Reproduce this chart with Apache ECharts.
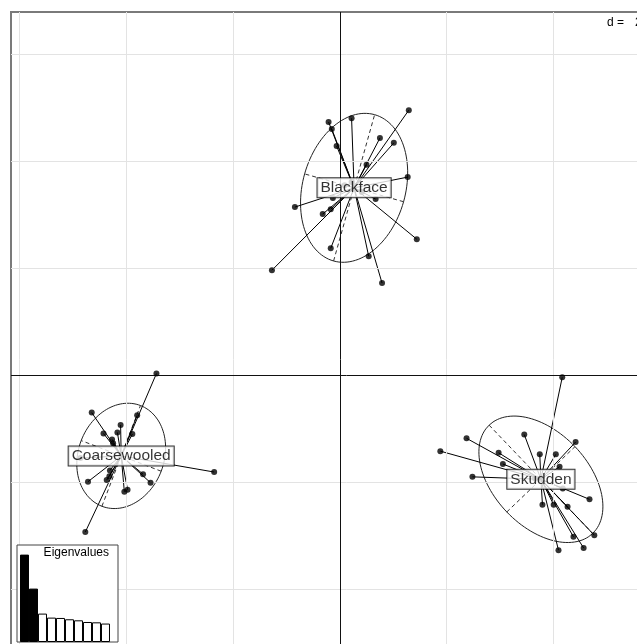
<!DOCTYPE html>
<html>
<head>
<meta charset="utf-8">
<script src="https://cdn.jsdelivr.net/npm/echarts@6/dist/echarts.min.js"></script>
<style>
  html, body { margin: 0; padding: 0; background: #fff; overflow: hidden; }
  /* the plotting frame runs past the right and bottom edges of the window */
  #chart { width: 682px; height: 707px; }
</style>
</head>
<body>
<div id="chart"></div>
<script>
// Discriminant scores of individuals, by breed (axis 1, axis 2)
const groupNames = ['Blackface', 'Coarsewooled', 'Skudden'];

const blackfaceX = [1.29, -0.21, 0.22, -0.15, 0.75, 1.01, -0.06, 0.50, 1.27, -0.84, -0.13, 0.67, -0.17, -0.32, 1.44, -0.17, 0.54, -1.27, 0.79, 0.09, 0.41, 0.22];
const blackfaceY = [4.95, 4.73, 4.80, 4.60, 4.43, 4.34, 4.28, 3.93, 3.70, 3.14, 3.31, 3.29, 3.10, 3.01, 2.54, 2.37, 2.22, 1.96, 1.72, 3.55, 3.42, 3.61];

const coarsewooledX = [-3.43, -4.64, -3.79, -4.42, -4.10, -4.16, -3.88, -4.26, -4.24, -2.35, -4.30, -3.68, -4.31, -4.71, -4.36, -3.54, -4.03, -3.97, -4.76, -4.85];
const coarsewooledY = [0.03, -0.70, -0.75, -1.09, -0.93, -1.07, -1.10, -1.20, -1.27, -1.81, -1.78, -1.85, -1.89, -1.99, -1.96, -2.01, -2.18, -2.14, -2.93, -1.55];

const skuddenX = [4.16, 2.37, 1.88, 3.45, 4.41, 2.97, 3.05, 3.74, 4.04, 2.48, 4.11, 4.17, 4.67, 3.79, 4.00, 4.26, 4.37, 4.76, 4.09, 4.56, 3.65];
const skuddenY = [-0.04, -1.18, -1.42, -1.11, -1.25, -1.45, -1.66, -1.48, -1.48, -1.90, -1.71, -2.12, -2.32, -2.42, -2.42, -2.46, -3.02, -2.99, -3.27, -3.23, -1.93];

// Eigenvalues shown in the inset (first two retained)
const eigenvalues = [100, 61.1, 32.5, 27.9, 27.5, 26.0, 24.8, 22.9, 22.5, 21.1];
const retainedAxes = 2;

// Grid positions (d = 2)
const gridTicks = [-6, -4, -2, 2, 4, 6];
const gridStep = 2;

const groupsX = [blackfaceX, coarsewooledX, skuddenX];
const groupsY = [blackfaceY, coarsewooledY, skuddenY];

const FONT = '"Liberation Sans", Arial, sans-serif';
const ELLIPSE_SCALE = 1.5;

// Mean, covariance and principal axes of a group
function groupStats(xs, ys) {
  const n = xs.length;
  let mx = 0, my = 0;
  for (let i = 0; i < n; i++) { mx += xs[i]; my += ys[i]; }
  mx /= n; my /= n;
  let sxx = 0, syy = 0, sxy = 0;
  for (let i = 0; i < n; i++) {
    const dx = xs[i] - mx, dy = ys[i] - my;
    sxx += dx * dx; syy += dy * dy; sxy += dx * dy;
  }
  sxx /= n; syy /= n; sxy /= n;
  const half = (sxx + syy) / 2;
  const disc = Math.sqrt(((sxx - syy) / 2) ** 2 + sxy * sxy);
  const l1 = half + disc, l2 = Math.max(half - disc, 0);
  const theta = 0.5 * Math.atan2(2 * sxy, sxx - syy);
  return { mx, my, a: ELLIPSE_SCALE * Math.sqrt(l1), b: ELLIPSE_SCALE * Math.sqrt(l2), theta };
}

const series = [];

// Background grid and zero axes
series.push({
  type: 'scatter', data: [], silent: true, z: 1,
  markLine: {
    silent: true, symbol: ['none', 'none'], label: { show: false },
    lineStyle: { color: '#e3e3e3', width: 1, type: 'solid' },
    emphasis: { disabled: true },
    data: gridTicks.map(v => ({ xAxis: v })).concat(gridTicks.map(v => ({ yAxis: v })))
  }
});
series.push({
  type: 'scatter', data: [], silent: true, z: 2,
  markLine: {
    silent: true, symbol: ['none', 'none'], label: { show: false },
    lineStyle: { color: '#111', width: 1, type: 'solid' },
    emphasis: { disabled: true },
    data: [{ xAxis: 0 }, { yAxis: 0 }]
  }
});

groupNames.forEach((name, g) => {
  const xs = groupsX[g], ys = groupsY[g];
  const s = groupStats(xs, ys);
  const ct = Math.cos(s.theta), st = Math.sin(s.theta);

  // Ellipse outline
  const ell = [];
  for (let k = 0; k <= 120; k++) {
    const t = 2 * Math.PI * k / 120;
    const u = s.a * Math.cos(t), v = s.b * Math.sin(t);
    ell.push([s.mx + u * ct - v * st, s.my + u * st + v * ct]);
  }
  series.push({
    type: 'line', data: ell, showSymbol: false, silent: true, z: 3,
    lineStyle: { color: '#222', width: 1 }, animation: false
  });

  // Ellipse axes (dashed)
  series.push({
    type: 'lines', coordinateSystem: 'cartesian2d', silent: true, z: 3,
    lineStyle: { color: '#333', width: 1, type: [4, 3], opacity: 1 },
    data: [
      { coords: [[s.mx - s.a * ct, s.my - s.a * st], [s.mx + s.a * ct, s.my + s.a * st]] },
      { coords: [[s.mx + s.b * st, s.my - s.b * ct], [s.mx - s.b * st, s.my + s.b * ct]] }
    ]
  });

  // Segments from group mean to each individual
  series.push({
    type: 'lines', coordinateSystem: 'cartesian2d', silent: true, z: 4,
    lineStyle: { color: '#000', width: 1, opacity: 1 },
    data: xs.map((x, i) => ({ coords: [[s.mx, s.my], [x, ys[i]]] }))
  });

  // Individuals
  series.push({
    type: 'scatter', silent: true, z: 5,
    symbol: 'circle', symbolSize: 6,
    itemStyle: { color: '#000' },
    data: xs.map((x, i) => [x, ys[i]])
  });

  // Group label at the mean
  series.push({
    type: 'scatter', silent: true, z: 10, symbolSize: 0,
    data: [[s.mx, s.my]],
    label: {
      show: true, position: 'inside', formatter: name,
      fontFamily: FONT, fontSize: 15.5, color: '#000',
      backgroundColor: '#fff', borderColor: '#000', borderWidth: 1,
      padding: [2, 3, 1, 3]
    }
  });
});

// Eigenvalue inset
series.push({
  type: 'bar', xAxisIndex: 1, yAxisIndex: 1, zlevel: 1, silent: true,
  barWidth: 9,
  data: eigenvalues.map((v, i) => ({
    value: [i, v],
    itemStyle: { color: i < retainedAxes ? '#000' : '#fff', borderColor: '#000', borderWidth: 1 }
  }))
});

const chart = echarts.init(document.getElementById('chart'), null, { renderer: 'canvas' });
chart.setOption({
  animation: false,
  backgroundColor: '#fff',
  title: [
    {
      text: '{a|d =}{b|' + gridStep + '}', left: 607, top: 17, padding: 0,
      textStyle: {
        fontWeight: 'normal',
        rich: {
          a: { fontFamily: FONT, fontSize: 12, fontWeight: 'normal', color: '#000' },
          b: { fontFamily: FONT, fontSize: 12, fontWeight: 'normal', color: '#000', padding: [0, 0, 0, 11] }
        }
      }
    },
    {
      text: 'Eigenvalues', right: 573, top: 547, zlevel: 1,
      textStyle: { fontFamily: FONT, fontSize: 12, fontWeight: 'normal', color: '#000' },
      padding: 0
    }
  ],
  grid: [
    {
      left: 11, top: 12, right: 0, bottom: 0,
      show: true, borderColor: '#7a7a7a', borderWidth: 2, backgroundColor: 'transparent'
    },
    {
      left: 17, top: 545, width: 101, height: 97,
      show: true, borderColor: '#444', borderWidth: 1, backgroundColor: '#fff', zlevel: 1
    }
  ],
  xAxis: [
    {
      type: 'value', gridIndex: 0, min: -6.15, max: 6.4,
      axisLine: { show: false }, axisTick: { show: false }, axisLabel: { show: false }, splitLine: { show: false }
    },
    {
      type: 'value', gridIndex: 1, min: -0.833, max: 10.39, zlevel: 1,
      axisLine: { show: false }, axisTick: { show: false }, axisLabel: { show: false }, splitLine: { show: false }
    }
  ],
  yAxis: [
    {
      type: 'value', gridIndex: 0, min: -6.2, max: 6.785,
      axisLine: { show: false }, axisTick: { show: false }, axisLabel: { show: false }, splitLine: { show: false }
    },
    {
      type: 'value', gridIndex: 1, min: 0, max: 111, zlevel: 1,
      axisLine: { show: false }, axisTick: { show: false }, axisLabel: { show: false }, splitLine: { show: false }
    }
  ],
  series: series
});
</script>
</body>
</html>
